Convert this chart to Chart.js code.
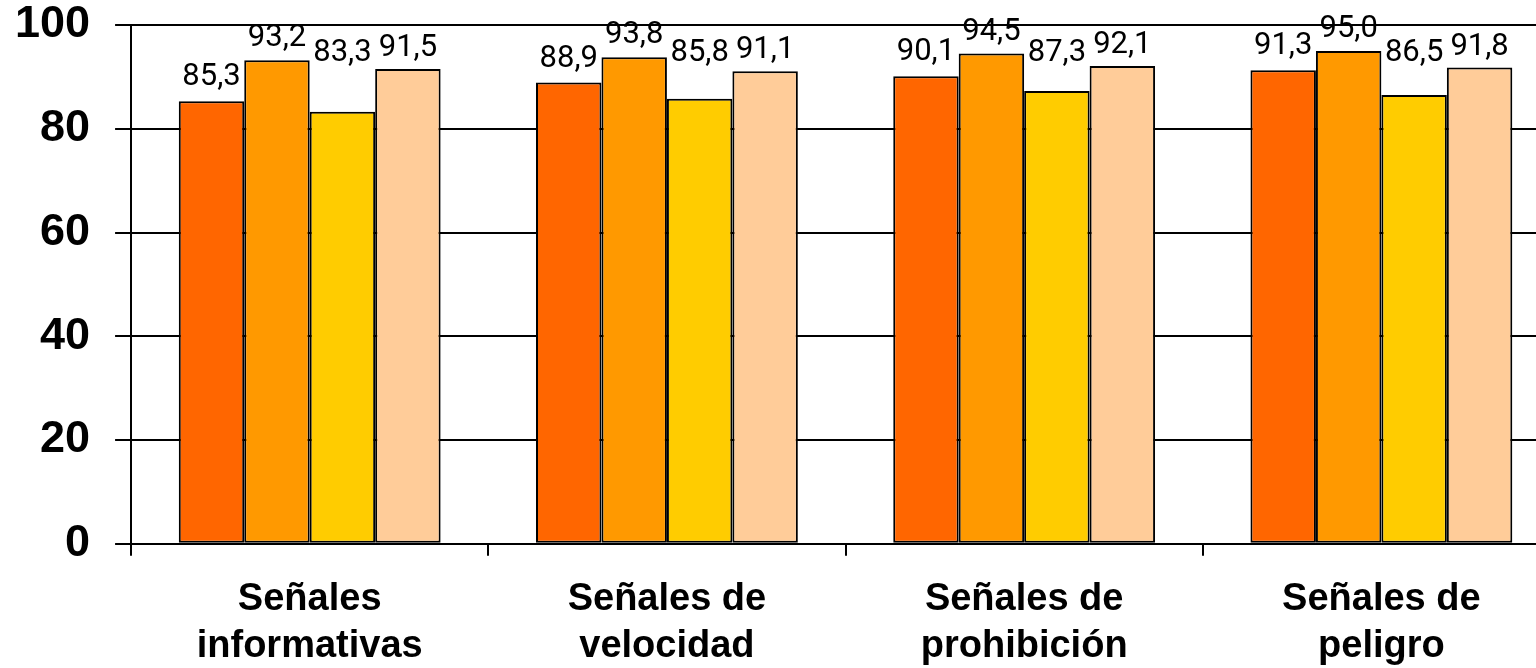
<!DOCTYPE html>
<html>
<head>
<meta charset="utf-8">
<script src="https://cdn.jsdelivr.net/npm/chart.js@4"></script>
<style>
  html, body { margin: 0; padding: 0; background: #fff; overflow: hidden; }
  #wrap { width: 1560px; height: 695px; margin-top: -27px; }
</style>
</head>
<body>
<div id="wrap"><canvas id="signsChart"></canvas></div>
<script>
const categories = [
  ["Señales", "informativas"],
  ["Señales de", "velocidad"],
  ["Señales de", "prohibición"],
  ["Señales de", "peligro"]
];
const serie1 = [85.3, 88.9, 90.1, 91.3];
const serie2 = [93.2, 93.8, 94.5, 95.0];
const serie3 = [83.3, 85.8, 87.3, 86.5];
const serie4 = [91.5, 91.1, 92.1, 91.8];
const yTicks = [0, 20, 40, 60, 80, 100];

// labels drawn above each bar, comma as decimal mark
const barLabels = {
  id: "barLabels",
  afterDatasetsDraw(chart) {
    const ctx = chart.ctx;
    const y = chart.scales.y;
    ctx.save();
    ctx.font = "31px Roboto";
    ctx.fillStyle = "#000";
    ctx.textAlign = "center";
    ctx.textBaseline = "alphabetic";
    chart.data.datasets.forEach((ds, i) => {
      const meta = chart.getDatasetMeta(i);
      meta.data.forEach((bar, j) => {
        let base = bar.y - ds.labelGap;
        if (ds.labelCap) base = Math.min(base, y.getPixelForValue(ds.labelCap));
        ctx.fillText(ds.data[j].toFixed(1).replace(".", ","), bar.x, base);
      });
    });
    ctx.restore();
  }
};

function makeSet(values, color, gap, cap) {
  return {
    data: values,
    backgroundColor: color,
    borderColor: "#000",
    borderWidth: 2,
    borderSkipped: false,
    categoryPercentage: 0.733,
    barPercentage: 1.0,
    labelGap: gap,
    labelCap: cap
  };
}

new Chart(document.getElementById("signsChart"), {
  type: "bar",
  data: {
    labels: categories,
    datasets: [
      makeSet(serie1, "#FF6600", 16, null),
      makeSet(serie2, "#FF9900", 14, null),
      makeSet(serie3, "#FFCC00", 14, 93.1),
      makeSet(serie4, "#FFCC99", 13, null)
    ]
  },
  options: {
    responsive: true,
    maintainAspectRatio: false,
    animation: false,
    layout: { padding: { top: 0, left: -10, right: 0, bottom: -22 } },
    plugins: {
      legend: { display: false },
      tooltip: { enabled: false }
    },
    scales: {
      x: {
        offset: true,
        grid: {
          offset: true,
          drawOnChartArea: false,
          drawTicks: true,
          tickLength: 12,
          color: "#000",
          lineWidth: 2
        },
        border: { color: "#000", width: 2 },
        ticks: {
          color: "#000",
          font: { family: "Liberation Sans, Arial", size: 38, weight: "bold", lineHeight: 1.24 },
          padding: 20,
          maxRotation: 0,
          autoSkip: false
        }
      },
      y: {
        min: 0,
        max: 100,
        afterBuildTicks(axis) {
          axis.ticks = yTicks.map((v) => ({ value: v }));
        },
        grid: {
          color: "#000",
          lineWidth: 2,
          tickLength: 16
        },
        border: { color: "#000", width: 2 },
        ticks: {
          color: "#000",
          font: { family: "Liberation Sans, Arial", size: 45, weight: "bold" },
          padding: 25
        }
      }
    }
  },
  plugins: [barLabels]
});
</script>
</body>
</html>
